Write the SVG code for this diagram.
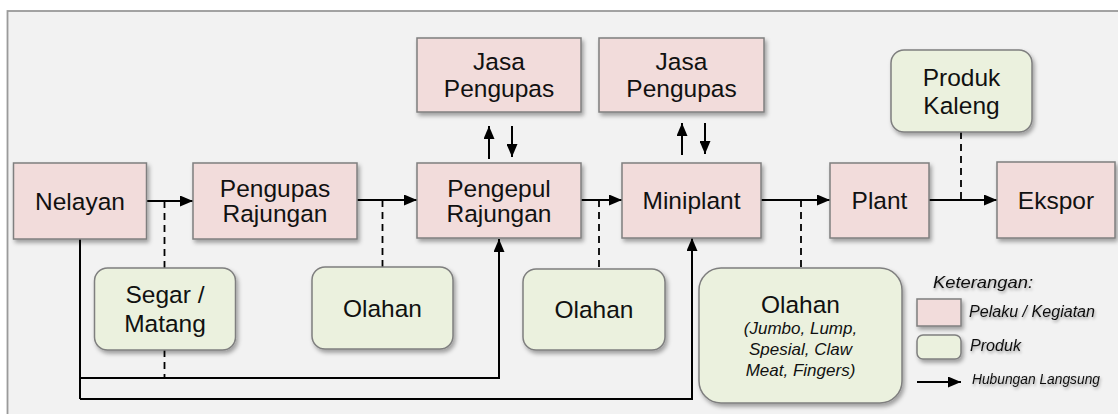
<svg xmlns="http://www.w3.org/2000/svg" width="1118" height="414" viewBox="0 0 1118 414">
<defs>
<style>
.actor{fill:#f2dcdb;stroke:#7f7f7f;stroke-width:1.5}
.prod{fill:#ebf1de;stroke:#7f7f7f;stroke-width:1.5}
.t{font-family:"Liberation Sans",Arial,sans-serif;font-size:24.5px;fill:#111;text-anchor:middle}
.ti{font-family:"Liberation Sans",Arial,sans-serif;font-style:italic;fill:#111;text-anchor:middle;font-size:17px}
.lg{font-family:"Liberation Sans",Arial,sans-serif;font-style:italic;fill:#111}
.ln{fill:none;stroke:#000;stroke-width:2}
.dash{fill:none;stroke:#000;stroke-width:1.8;stroke-dasharray:7 5}
</style>
<filter id="sh" x="-10%" y="-10%" width="130%" height="140%">
<feDropShadow dx="2" dy="3" stdDeviation="2" flood-color="#000" flood-opacity="0.35"/>
</filter>
<filter id="tsh" x="-10%" y="-30%" width="130%" height="180%">
<feDropShadow dx="1" dy="2" stdDeviation="1.5" flood-color="#000" flood-opacity="0.35"/>
</filter>
<marker id="ah" markerUnits="userSpaceOnUse" markerWidth="13" markerHeight="11" refX="13" refY="5.5" orient="auto">
<path d="M0,0 L13,5.5 L0,11 Z" fill="#000"/>
</marker>
</defs>
<rect x="0" y="0" width="1118" height="414" fill="#ffffff"/>
<rect x="7.5" y="11" width="1130" height="420" fill="#f2f2f2" stroke="#9a9a9a" stroke-width="1.8"/>

<g id="connectors">
<line class="ln" x1="146" y1="201" x2="193" y2="201" marker-end="url(#ah)"/>
<line class="ln" x1="357" y1="200" x2="417" y2="200" marker-end="url(#ah)"/>
<line class="ln" x1="581" y1="200" x2="622" y2="200" marker-end="url(#ah)"/>
<line class="ln" x1="761" y1="200" x2="830" y2="200" marker-end="url(#ah)"/>
<line class="ln" x1="929" y1="200" x2="997" y2="200" marker-end="url(#ah)"/>
<line class="ln" x1="489" y1="159" x2="489" y2="126" marker-end="url(#ah)"/>
<line class="ln" x1="512" y1="126" x2="512" y2="157" marker-end="url(#ah)"/>
<line class="ln" x1="682" y1="155" x2="682" y2="123" marker-end="url(#ah)"/>
<line class="ln" x1="705" y1="123" x2="705" y2="154" marker-end="url(#ah)"/>
<path class="ln" d="M80,239 V399" />
<path class="ln" d="M80,378 H499 V239" marker-end="url(#ah)"/>
<path class="ln" d="M80,399 H692 V238" marker-end="url(#ah)"/>
<line class="dash" x1="164.5" y1="201" x2="164.5" y2="268"/>
<line class="dash" x1="164.5" y1="350" x2="164.5" y2="378"/>
<line class="dash" x1="382.5" y1="200" x2="382.5" y2="267"/>
<line class="dash" x1="599" y1="200" x2="599" y2="269"/>
<line class="dash" x1="801" y1="200" x2="801" y2="268"/>
<line class="dash" x1="961" y1="132" x2="961" y2="200"/>
</g>

<g id="nelayan">
<rect class="actor" filter="url(#sh)" x="13.5" y="163" width="133" height="76"/>
<text class="t" x="80" y="210">Nelayan</text>
</g>
<g id="pengupas-rajungan">
<rect class="actor" filter="url(#sh)" x="193" y="163" width="164" height="76"/>
<text class="t" x="275" y="197">Pengupas</text>
<text class="t" x="275" y="222">Rajungan</text>
</g>
<g id="pengepul-rajungan">
<rect class="actor" filter="url(#sh)" x="417" y="163" width="164" height="75"/>
<text class="t" x="499" y="197">Pengepul</text>
<text class="t" x="499" y="222">Rajungan</text>
</g>
<g id="jasa-pengupas-1">
<rect class="actor" filter="url(#sh)" x="417" y="38" width="164" height="74"/>
<text class="t" x="499" y="70">Jasa</text>
<text class="t" x="499" y="97">Pengupas</text>
</g>
<g id="jasa-pengupas-2">
<rect class="actor" filter="url(#sh)" x="599" y="38" width="165" height="74"/>
<text class="t" x="681.5" y="70">Jasa</text>
<text class="t" x="681.5" y="97">Pengupas</text>
</g>
<g id="miniplant">
<rect class="actor" filter="url(#sh)" x="622" y="163" width="139" height="75"/>
<text class="t" x="691.5" y="209">Miniplant</text>
</g>
<g id="plant">
<rect class="actor" filter="url(#sh)" x="830" y="163" width="99" height="75"/>
<text class="t" x="879.5" y="209">Plant</text>
</g>
<g id="ekspor">
<rect class="actor" filter="url(#sh)" x="997" y="162" width="118" height="76"/>
<text class="t" x="1056" y="209">Ekspor</text>
</g>
<g id="produk-kaleng">
<rect class="prod" filter="url(#sh)" x="891" y="50" width="141" height="82" rx="13"/>
<text class="t" x="961.5" y="86">Produk</text>
<text class="t" x="961.5" y="114">Kaleng</text>
</g>
<g id="segar-matang">
<rect class="prod" filter="url(#sh)" x="94.5" y="268" width="141" height="82" rx="13"/>
<text class="t" x="165" y="303">Segar /</text>
<text class="t" x="165" y="332">Matang</text>
</g>
<g id="olahan-1">
<rect class="prod" filter="url(#sh)" x="312" y="267" width="141" height="82" rx="13"/>
<text class="t" x="382.5" y="317">Olahan</text>
</g>
<g id="olahan-2">
<rect class="prod" filter="url(#sh)" x="523" y="269" width="142" height="81" rx="13"/>
<text class="t" x="594" y="318">Olahan</text>
</g>
<g id="olahan-3">
<rect class="prod" filter="url(#sh)" x="699" y="268" width="203" height="135" rx="22"/>
<text class="t" x="800.5" y="313">Olahan</text>
<text class="ti" x="800.5" y="334">(Jumbo, Lump,</text>
<text class="ti" x="800.5" y="355">Spesial, Claw</text>
<text class="ti" x="800.5" y="376">Meat, Fingers)</text>
</g>

<g id="legend">
<text class="lg" filter="url(#tsh)" x="933" y="288" font-size="17" textLength="100" lengthAdjust="spacingAndGlyphs">Keterangan:</text>
<rect class="actor" filter="url(#sh)" x="917" y="299" width="44" height="27"/>
<text class="lg" filter="url(#tsh)" x="969" y="317" font-size="16" textLength="126" lengthAdjust="spacingAndGlyphs">Pelaku / Kegiatan</text>
<rect class="prod" filter="url(#sh)" x="917" y="335" width="44" height="24" rx="6"/>
<text class="lg" filter="url(#tsh)" x="970" y="351" font-size="16" textLength="51" lengthAdjust="spacingAndGlyphs">Produk</text>
<line class="ln" x1="917" y1="382" x2="961" y2="382" marker-end="url(#ah)"/>
<text class="lg" filter="url(#tsh)" x="972" y="384" font-size="14" textLength="128" lengthAdjust="spacingAndGlyphs">Hubungan Langsung</text>
</g>
</svg>
